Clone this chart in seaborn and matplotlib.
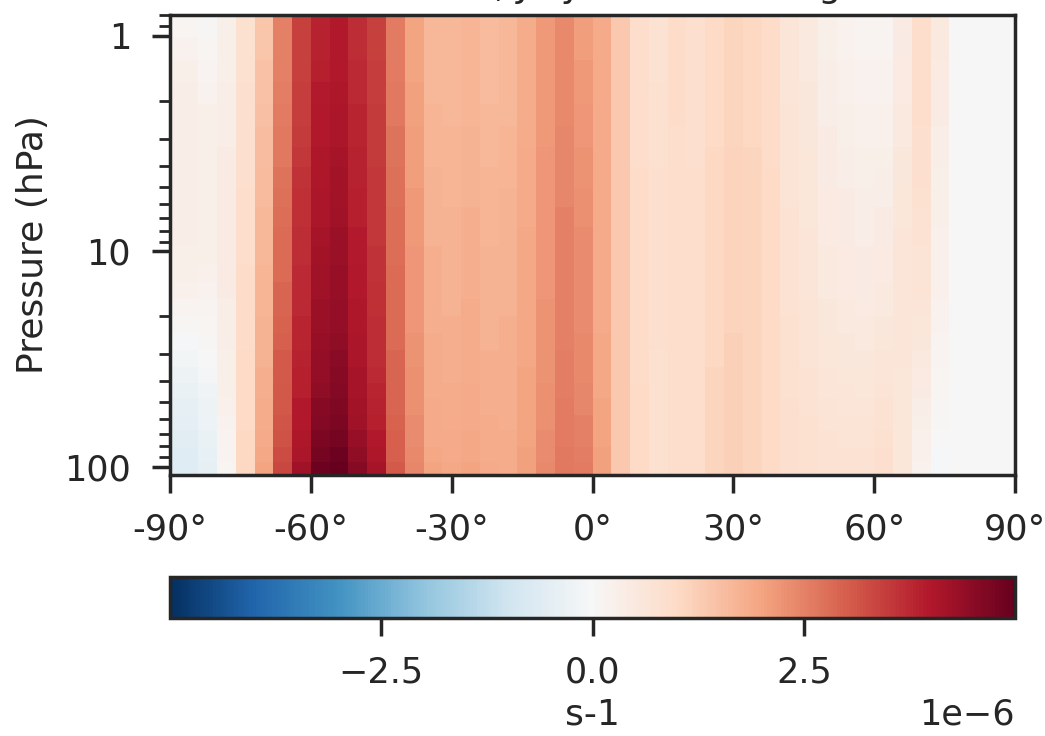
import numpy as np
import matplotlib
matplotlib.use('Agg')
import matplotlib.pyplot as plt
import matplotlib.ticker as mticker
import seaborn as sns

# grid: latitude cell edges (4 deg cells centred on -90..90) and pressure cell edges (hPa)
lat_edges = list(range(-92, 93, 4))
pressure_edges = [0.80, 1.01, 1.30, 1.64, 2.07, 2.61, 3.28, 4.06, 5.09, 6.24, 7.73, 9.48,
                  11.5, 13.8, 16.7, 20.0, 23.8, 28.6, 34.3, 40.6, 47.7, 57.3, 67.3, 80.7,
                  94.8, 109.0]

title = 'Residual, July net total drag'
cbar_label = 's-1'

# one list per latitude (-90 .. 90), top level (low pressure) to bottom level, units 1e-6 s-1
drag_cols = [
    [0.10, 0.20, 0.30, 0.35, 0.35, 0.35, 0.35, 0.35, 0.35, 0.35, 0.35, 0.30, 0.30, 0.25, 0.15, 0.05, -0.05, -0.15, -0.25, -0.35, -0.45, -0.50, -0.55, -0.60, -0.60],  # -90
    [0.10, 0.20, 0.30, 0.35, 0.35, 0.35, 0.35, 0.35, 0.35, 0.35, 0.35, 0.30, 0.30, 0.25, 0.15, 0.05, -0.05, -0.15, -0.25, -0.35, -0.45, -0.50, -0.55, -0.60, -0.60],  # -86
    [0.05, 0.10, 0.15, 0.20, 0.30, 0.30, 0.30, 0.30, 0.30, 0.30, 0.30, 0.30, 0.25, 0.20, 0.15, 0.10, 0.05, 0.00, -0.10, -0.20, -0.25, -0.30, -0.35, -0.40, -0.45],  # -82
    [0.30, 0.30, 0.30, 0.35, 0.35, 0.35, 0.40, 0.40, 0.40, 0.40, 0.40, 0.40, 0.40, 0.40, 0.35, 0.35, 0.35, 0.30, 0.30, 0.30, 0.25, 0.20, 0.15, 0.15, 0.10],  # -78
    [0.80, 0.80, 0.80, 0.85, 0.85, 0.85, 0.85, 0.85, 0.90, 0.90, 0.90, 0.90, 0.95, 0.95, 0.95, 0.95, 0.95, 1.00, 1.00, 1.00, 1.00, 1.00, 1.05, 1.05, 1.05],  # -74
    [1.40, 1.40, 1.45, 1.45, 1.50, 1.55, 1.55, 1.60, 1.60, 1.65, 1.65, 1.65, 1.70, 1.70, 1.70, 1.75, 1.75, 1.75, 1.80, 1.80, 1.85, 1.85, 1.90, 1.95, 2.00],  # -70
    [2.50, 2.50, 2.50, 2.55, 2.60, 2.65, 2.65, 2.70, 2.75, 2.80, 2.85, 2.85, 2.85, 2.90, 2.90, 2.95, 3.00, 3.05, 3.05, 3.10, 3.10, 3.15, 3.20, 3.25, 3.35],  # -66
    [3.40, 3.40, 3.40, 3.45, 3.45, 3.50, 3.55, 3.60, 3.65, 3.65, 3.70, 3.70, 3.75, 3.75, 3.75, 3.80, 3.80, 3.85, 3.90, 3.90, 4.00, 4.00, 4.05, 4.10, 4.25],  # -62
    [3.85, 3.85, 3.90, 3.95, 4.00, 4.00, 4.05, 4.05, 4.10, 4.10, 4.15, 4.20, 4.25, 4.25, 4.30, 4.30, 4.35, 4.40, 4.40, 4.45, 4.55, 4.60, 4.70, 4.80, 4.90],  # -58
    [4.00, 4.00, 4.00, 4.05, 4.10, 4.10, 4.15, 4.20, 4.20, 4.25, 4.30, 4.30, 4.35, 4.35, 4.40, 4.40, 4.45, 4.50, 4.55, 4.60, 4.65, 4.70, 4.80, 4.90, 5.00],  # -54
    [3.70, 3.70, 3.75, 3.75, 3.80, 3.80, 3.85, 3.85, 3.90, 3.90, 3.95, 3.95, 4.00, 4.00, 4.05, 4.05, 4.10, 4.10, 4.15, 4.15, 4.20, 4.25, 4.35, 4.45, 4.55],  # -50
    [3.40, 3.40, 3.45, 3.45, 3.50, 3.50, 3.50, 3.55, 3.55, 3.55, 3.55, 3.60, 3.60, 3.65, 3.65, 3.70, 3.70, 3.70, 3.75, 3.80, 3.85, 3.90, 4.00, 4.05, 4.15],  # -46
    [2.60, 2.60, 2.60, 2.65, 2.65, 2.70, 2.70, 2.75, 2.75, 2.80, 2.80, 2.80, 2.85, 2.85, 2.85, 2.85, 2.85, 2.90, 2.90, 2.90, 2.90, 2.95, 3.00, 3.00, 3.05],  # -42
    [2.00, 2.00, 2.00, 2.05, 2.05, 2.10, 2.10, 2.10, 2.15, 2.15, 2.15, 2.20, 2.20, 2.20, 2.20, 2.20, 2.25, 2.25, 2.30, 2.30, 2.30, 2.35, 2.35, 2.40, 2.45],  # -38
    [1.65, 1.65, 1.65, 1.65, 1.70, 1.70, 1.70, 1.75, 1.75, 1.75, 1.75, 1.80, 1.80, 1.80, 1.80, 1.80, 1.85, 1.85, 1.85, 1.85, 1.90, 1.90, 1.90, 1.95, 2.00],  # -34
    [1.65, 1.65, 1.65, 1.65, 1.65, 1.70, 1.70, 1.70, 1.70, 1.75, 1.75, 1.75, 1.75, 1.75, 1.75, 1.80, 1.80, 1.80, 1.80, 1.85, 1.85, 1.85, 1.90, 1.90, 1.95],  # -30
    [1.70, 1.70, 1.70, 1.70, 1.70, 1.75, 1.75, 1.75, 1.75, 1.80, 1.80, 1.80, 1.80, 1.80, 1.85, 1.85, 1.85, 1.85, 1.85, 1.90, 1.90, 1.90, 1.95, 1.95, 2.00],  # -26
    [1.60, 1.60, 1.60, 1.60, 1.65, 1.65, 1.65, 1.70, 1.70, 1.70, 1.70, 1.75, 1.75, 1.75, 1.75, 1.75, 1.75, 1.80, 1.80, 1.80, 1.80, 1.85, 1.85, 1.85, 1.90],  # -22
    [1.65, 1.65, 1.65, 1.65, 1.65, 1.70, 1.70, 1.70, 1.75, 1.75, 1.75, 1.75, 1.75, 1.75, 1.75, 1.80, 1.80, 1.80, 1.80, 1.80, 1.80, 1.80, 1.85, 1.85, 1.85],  # -18
    [1.85, 1.85, 1.85, 1.85, 1.85, 1.85, 1.90, 1.90, 1.90, 1.90, 1.95, 1.95, 1.95, 1.95, 1.95, 1.95, 1.95, 1.95, 2.00, 2.00, 2.00, 2.00, 2.00, 2.05, 2.05],  # -14
    [2.15, 2.15, 2.15, 2.15, 2.15, 2.15, 2.20, 2.20, 2.20, 2.20, 2.20, 2.20, 2.20, 2.20, 2.25, 2.25, 2.25, 2.25, 2.25, 2.30, 2.30, 2.30, 2.35, 2.35, 2.40],  # -10
    [2.40, 2.40, 2.40, 2.40, 2.40, 2.45, 2.45, 2.45, 2.45, 2.50, 2.50, 2.50, 2.50, 2.50, 2.50, 2.50, 2.50, 2.55, 2.55, 2.55, 2.60, 2.60, 2.60, 2.65, 2.65],  # -6
    [2.10, 2.10, 2.15, 2.15, 2.20, 2.20, 2.25, 2.25, 2.30, 2.30, 2.35, 2.35, 2.35, 2.35, 2.35, 2.35, 2.40, 2.40, 2.40, 2.45, 2.45, 2.50, 2.50, 2.55, 2.60],  # -2
    [1.90, 1.90, 1.90, 1.90, 1.90, 1.90, 1.90, 1.90, 1.90, 1.90, 1.90, 1.90, 1.90, 1.90, 1.90, 1.90, 1.95, 1.95, 1.95, 1.95, 2.00, 2.00, 2.00, 2.05, 2.05],  # 2
    [1.35, 1.35, 1.35, 1.35, 1.35, 1.35, 1.35, 1.35, 1.35, 1.35, 1.35, 1.35, 1.35, 1.35, 1.35, 1.35, 1.35, 1.35, 1.35, 1.35, 1.35, 1.35, 1.35, 1.35, 1.35],  # 6
    [0.90, 0.90, 0.90, 0.90, 0.90, 0.90, 0.90, 0.95, 0.95, 0.95, 0.95, 0.95, 0.95, 0.95, 0.95, 0.95, 0.95, 0.95, 0.95, 1.00, 1.00, 1.00, 1.00, 1.00, 1.00],  # 10
    [0.75, 0.75, 0.75, 0.80, 0.80, 0.80, 0.80, 0.85, 0.85, 0.85, 0.85, 0.85, 0.85, 0.85, 0.85, 0.85, 0.85, 0.80, 0.80, 0.80, 0.80, 0.80, 0.80, 0.80, 0.80],  # 14
    [0.95, 0.95, 0.95, 0.95, 0.95, 0.90, 0.90, 0.90, 0.90, 0.90, 0.90, 0.90, 0.90, 0.90, 0.90, 0.90, 0.90, 0.90, 0.90, 0.90, 0.90, 0.90, 0.90, 0.90, 0.90],  # 18
    [0.85, 0.85, 0.85, 0.85, 0.85, 0.85, 0.85, 0.90, 0.90, 0.90, 0.90, 0.90, 0.90, 0.90, 0.90, 0.90, 0.90, 0.90, 0.90, 0.90, 0.90, 0.90, 0.90, 0.90, 0.90],  # 22
    [1.00, 1.00, 1.00, 1.00, 1.00, 1.00, 1.05, 1.05, 1.05, 1.05, 1.05, 1.05, 1.05, 1.05, 1.05, 1.05, 1.05, 1.05, 1.10, 1.10, 1.10, 1.10, 1.10, 1.10, 1.10],  # 26
    [1.10, 1.10, 1.10, 1.10, 1.10, 1.10, 1.15, 1.15, 1.15, 1.15, 1.15, 1.15, 1.15, 1.15, 1.15, 1.15, 1.20, 1.20, 1.20, 1.20, 1.20, 1.20, 1.20, 1.20, 1.20],  # 30
    [1.05, 1.05, 1.05, 1.05, 1.05, 1.05, 1.10, 1.10, 1.10, 1.10, 1.10, 1.10, 1.10, 1.10, 1.10, 1.10, 1.10, 1.10, 1.10, 1.10, 1.10, 1.10, 1.10, 1.10, 1.10],  # 34
    [0.95, 0.95, 0.95, 0.95, 0.95, 0.95, 0.95, 1.00, 1.00, 1.00, 1.00, 1.00, 1.00, 1.00, 1.00, 1.00, 1.00, 1.00, 1.00, 1.00, 1.00, 1.00, 1.00, 1.00, 1.00],  # 38
    [0.65, 0.65, 0.65, 0.65, 0.70, 0.70, 0.70, 0.70, 0.70, 0.75, 0.75, 0.75, 0.75, 0.75, 0.75, 0.80, 0.80, 0.80, 0.80, 0.80, 0.85, 0.85, 0.85, 0.85, 0.85],  # 42
    [0.50, 0.50, 0.50, 0.55, 0.55, 0.55, 0.60, 0.60, 0.60, 0.60, 0.65, 0.65, 0.65, 0.65, 0.70, 0.70, 0.70, 0.70, 0.75, 0.75, 0.75, 0.80, 0.80, 0.80, 0.80],  # 46
    [0.30, 0.30, 0.35, 0.35, 0.35, 0.40, 0.40, 0.40, 0.45, 0.45, 0.45, 0.50, 0.50, 0.50, 0.55, 0.55, 0.60, 0.60, 0.65, 0.65, 0.70, 0.70, 0.75, 0.75, 0.75],  # 50
    [0.20, 0.20, 0.25, 0.25, 0.30, 0.30, 0.35, 0.35, 0.40, 0.40, 0.40, 0.45, 0.45, 0.45, 0.50, 0.50, 0.55, 0.55, 0.60, 0.65, 0.65, 0.70, 0.70, 0.75, 0.75],  # 54
    [0.15, 0.15, 0.20, 0.20, 0.25, 0.25, 0.30, 0.30, 0.35, 0.35, 0.35, 0.40, 0.40, 0.40, 0.45, 0.50, 0.50, 0.55, 0.60, 0.60, 0.65, 0.70, 0.70, 0.75, 0.75],  # 58
    [0.15, 0.15, 0.20, 0.20, 0.25, 0.25, 0.30, 0.35, 0.35, 0.40, 0.40, 0.45, 0.45, 0.50, 0.50, 0.55, 0.60, 0.65, 0.65, 0.70, 0.75, 0.75, 0.80, 0.85, 0.85],  # 62
    [0.40, 0.40, 0.45, 0.45, 0.50, 0.50, 0.55, 0.55, 0.60, 0.60, 0.65, 0.65, 0.65, 0.65, 0.65, 0.65, 0.65, 0.65, 0.60, 0.60, 0.60, 0.60, 0.60, 0.60, 0.60],  # 66
    [0.90, 0.90, 0.90, 0.90, 0.90, 0.85, 0.85, 0.85, 0.80, 0.75, 0.75, 0.70, 0.70, 0.70, 0.65, 0.60, 0.55, 0.50, 0.45, 0.40, 0.35, 0.30, 0.25, 0.25, 0.20],  # 70
    [0.50, 0.50, 0.45, 0.40, 0.40, 0.35, 0.35, 0.30, 0.30, 0.30, 0.25, 0.25, 0.25, 0.25, 0.20, 0.20, 0.15, 0.15, 0.10, 0.10, 0.05, 0.05, 0.00, -0.05, -0.05],  # 74
    [0.00, 0.00, 0.00, 0.00, 0.00, 0.00, 0.00, 0.00, 0.00, 0.00, 0.00, 0.00, 0.00, 0.00, 0.00, 0.00, 0.00, 0.00, 0.00, 0.00, 0.00, 0.00, 0.00, 0.00, 0.00],  # 78
    [0.00, 0.00, 0.00, 0.00, 0.00, 0.00, 0.00, 0.00, 0.00, 0.00, 0.00, 0.00, 0.00, 0.00, 0.00, 0.00, 0.00, 0.00, 0.00, 0.00, 0.00, 0.00, 0.00, 0.00, 0.00],  # 82
    [0.00, 0.00, 0.00, 0.00, 0.00, 0.00, 0.00, 0.00, 0.00, 0.00, 0.00, 0.00, 0.00, 0.00, 0.00, 0.00, 0.00, 0.00, 0.00, 0.00, 0.00, 0.00, 0.00, 0.00, 0.00],  # 86
    [0.00, 0.00, 0.00, 0.00, 0.00, 0.00, 0.00, 0.00, 0.00, 0.00, 0.00, 0.00, 0.00, 0.00, 0.00, 0.00, 0.00, 0.00, 0.00, 0.00, 0.00, 0.00, 0.00, 0.00, 0.00],  # 90
]

drag = np.array(drag_cols).T * 1e-6   # shape (levels, lats)

sns.set_theme(style='ticks', context='notebook',
              rc={'xtick.labelsize': 12.6, 'ytick.labelsize': 12.6,
                  'axes.labelsize': 13, 'axes.titlesize': 13,
                  'xtick.major.pad': 7, 'ytick.major.pad': 7.5,
                  'xtick.major.size': 6.5, 'ytick.major.size': 6.5,
                  'axes.labelpad': 5})
cmap = sns.color_palette('RdBu_r', as_cmap=True)

fig = plt.figure(figsize=(5.225, 3.68), dpi=200)
ax = fig.add_axes([0.1627, 0.3546, 0.8086, 0.625])
cax = fig.add_axes([0.1627, 0.1603, 0.8086, 0.0557])

mesh = ax.pcolormesh(lat_edges, pressure_edges, drag, cmap=cmap,
                     vmin=-5e-6, vmax=5e-6, shading='flat')
ax.set_yscale('log')
ax.set_ylim(pressure_edges[-1], pressure_edges[0])
ax.set_xlim(-90, 90)
ax.set_xticks(range(-90, 91, 30))
ax.xaxis.set_major_formatter(mticker.FuncFormatter(lambda v, _: f'{v:.0f}°'))
ax.yaxis.set_major_formatter(mticker.FuncFormatter(lambda v, _: f'{v:g}'))
ax.yaxis.set_minor_formatter(mticker.NullFormatter())
ax.set_ylabel('Pressure (hPa)')

cb = fig.colorbar(mesh, cax=cax, orientation='horizontal')
cb.set_ticks([-2.5e-6, 0, 2.5e-6])
cb.ax.xaxis.get_offset_text().set_fontsize(12.6)
cb.set_label(cbar_label, labelpad=3)

# title sits mostly above the top edge, as in the source image
fig.text(0.5665, 1.004, title, ha='center', va='baseline', fontsize=13)

fig.savefig('out.png', dpi=200)
